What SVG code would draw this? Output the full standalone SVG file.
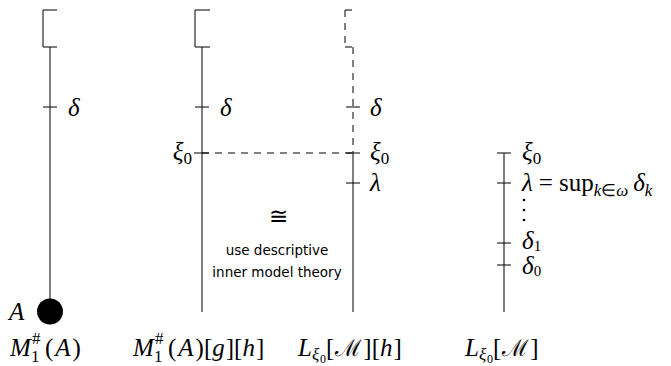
<svg xmlns="http://www.w3.org/2000/svg" width="671" height="366" viewBox="0 0 671 366">
<style>
.l{stroke:#000;stroke-width:1;fill:none}
.d{stroke:#000;stroke-width:1;fill:none;stroke-dasharray:7,6}
.m{font-family:"Liberation Serif",serif;font-size:25px;fill:#000}
.i{font-style:italic}
.s{font-size:17px}
.ss{font-size:12px}
.c{font-family:"DejaVu Serif",serif;font-style:normal;font-size:23px}
.t{font-family:"DejaVu Sans","Liberation Sans",sans-serif;font-size:13.5px;fill:#000;text-anchor:middle}
</style>
<rect width="671" height="366" fill="#fff"/>
<g id="connectors">
<path class="d" d="M202 153H353"/>
</g>
<g id="col1">
<path class="l" d="M57 10H43V47H57M50 47V300M43 107H57"/>
<circle cx="50" cy="311.5" r="13" fill="#000"/>
<text class="m i" x="68" y="116">δ</text>
<text class="m i" x="9" y="320">A</text>
<text class="m"><tspan class="i" x="10" y="356">M</tspan><tspan class="s" x="31" y="362">1</tspan><tspan class="s" x="32" y="344">#</tspan><tspan x="45" y="356">(</tspan><tspan class="i" dx="2">A</tspan><tspan dx="2">)</tspan></text>
</g>
<g id="col2">
<path class="l" d="M210 10H195V47H210M202 47V312M195 107H209M194 153H209"/>
<text class="m i" x="220" y="116">δ</text>
<text class="m" x="192" y="160" text-anchor="end"><tspan class="i">ξ</tspan><tspan class="s" dy="4">0</tspan></text>
<text class="m"><tspan class="i" x="133" y="356">M</tspan><tspan class="s" x="154" y="362">1</tspan><tspan class="s" x="155" y="344">#</tspan><tspan x="168" y="356">(</tspan><tspan class="i" dx="2">A</tspan><tspan dx="2">)[</tspan><tspan class="i">g</tspan><tspan dx="1">][</tspan><tspan class="i">h</tspan><tspan dx="1">]</tspan></text>
</g>
<g id="col3">
<path class="d" d="M345 10H353M345 10V47M345 47H353M353 47V153"/>
<path class="l" d="M353 153V312M346 107H360M346 153H360M346 183H360"/>
<text class="m i" x="370" y="116">δ</text>
<text class="m" x="370" y="160"><tspan class="i">ξ</tspan><tspan class="s" dy="4">0</tspan></text>
<text class="m i" x="370" y="191">λ</text>
<text class="m"><tspan class="i" x="298" y="356">L</tspan><tspan class="s i" x="312" y="360">ξ</tspan><tspan class="ss" x="320" y="363">0</tspan><tspan x="326" y="356">[</tspan><tspan class="c" dx="1">ℳ</tspan><tspan dx="1">][</tspan><tspan class="i">h</tspan><tspan dx="1">]</tspan></text>
</g>
<g id="col4">
<path class="l" d="M504 153V312M497 153H511M497 183H511M497 243H511M497 265H511"/>
<text class="m" x="522" y="160"><tspan class="i">ξ</tspan><tspan class="s" dy="4">0</tspan></text>
<text class="m" x="522" y="191"><tspan class="i">λ</tspan><tspan dx="6">=</tspan><tspan dx="6">sup</tspan><tspan class="s i" dy="5">k</tspan><tspan class="s">∈</tspan><tspan class="s i">ω</tspan><tspan dy="-5" dx="5" class="i">δ</tspan><tspan class="s i" dy="5">k</tspan></text>
<circle cx="524" cy="200" r="1.3" fill="#000"/>
<circle cx="524" cy="210" r="1.3" fill="#000"/>
<circle cx="524" cy="220" r="1.3" fill="#000"/>
<text class="m" x="522" y="249"><tspan class="i">δ</tspan><tspan class="s" dy="2" style="font-size:15px">1</tspan></text>
<text class="m" x="522" y="274"><tspan class="i">δ</tspan><tspan class="s" dy="2" style="font-size:15px">0</tspan></text>
<text class="m"><tspan class="i" x="465" y="356">L</tspan><tspan class="s i" x="479" y="360">ξ</tspan><tspan class="ss" x="487" y="363">0</tspan><tspan x="493" y="356">[</tspan><tspan class="c" dx="1">ℳ</tspan><tspan dx="1">]</tspan></text>
</g>
<g id="note">
<text class="m" x="278" y="224" text-anchor="middle" style="font-size:23px">≅</text>
<text class="t" x="277" y="255">use descriptive</text>
<text class="t" x="277" y="277">inner model theory</text>
</g>
</svg>
